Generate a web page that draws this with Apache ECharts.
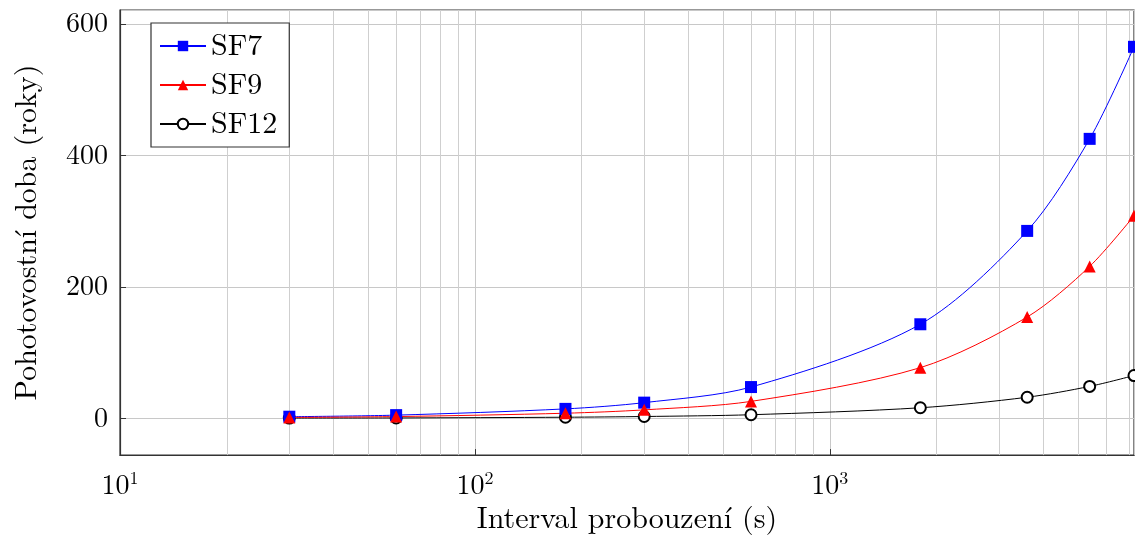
<!DOCTYPE html>
<html>
<head>
<meta charset="utf-8">
<script src="https://cdn.jsdelivr.net/npm/echarts@6/dist/echarts.min.js"></script>
<style>
  html, body { margin: 0; padding: 0; background: #fff; }
  #chart { width: 1135px; height: 539px; }
</style>
</head>
<body>
<div id="chart"></div>
<script>
// wake-up interval in seconds (x, log scale)
var intervals = [30, 60, 180, 300, 600, 1800, 3600, 5400, 7200];
// standby time in years
var sf7 = [2.4, 4.8, 14.3, 23.8, 47.5, 143, 285, 425, 565];
var sf9 = [1.3, 2.6, 7.7, 12.8, 25.7, 77, 154, 231, 308];
var sf12 = [0.3, 0.5, 1.6, 2.7, 5.4, 16, 32, 48.5, 65];
// minor grid positions of the log axis
var minorGrid = [20, 30, 40, 50, 60, 70, 80, 90, 200, 300, 400, 500, 600, 700, 800, 900, 2000, 3000, 4000, 5000, 6000, 7000];

var serif = "'Latin Modern Roman', 'Liberation Serif', serif";

function pairs (ys) {
  return intervals.map(function (x, i) { return [x, ys[i]]; });
}

var chart = echarts.init(document.getElementById('chart'));
var option = {
  animation: false,
  textStyle: { fontFamily: serif, color: '#000' },
  grid: {
    left: 120, right: 1, top: 10, bottom: 82,
    show: true, borderColor: '#333', borderWidth: 1.2
  },
  legend: {
    orient: 'vertical',
    left: 151, top: 23,
    padding: [8, 12, 8, 8],
    itemGap: 9,
    itemWidth: 46, itemHeight: 13,
    backgroundColor: '#fff',
    borderColor: '#333', borderWidth: 1.2,
    textStyle: { fontFamily: serif, fontSize: 30, color: '#000' },
    data: ['SF7', 'SF9', 'SF12']
  },
  xAxis: {
    type: 'log', logBase: 10, min: 10, max: 7200,
    name: 'Interval probouzení (s)',
    nameLocation: 'middle', nameGap: 47,
    nameTextStyle: { fontFamily: serif, fontSize: 30, color: '#000' },
    axisLine: { onZero: false, lineStyle: { color: '#333', width: 1.2 } },
    axisTick: { inside: true, length: 6, lineStyle: { color: '#333' } },
    axisLabel: {
      margin: 14, showMaxLabel: false,
      fontSize: 28, color: '#000',
      formatter: function (v) {
        return '10{sup|' + Math.round(Math.log10(v)) + '}';
      },
      rich: { sup: { fontSize: 18, verticalAlign: 'top', padding: [0, 0, 14, 0], fontFamily: serif } }
    },
    splitLine: { show: true, lineStyle: { color: '#c8c8c8', width: 1 } }
  },
  yAxis: {
    type: 'value', min: -56, max: 621, splitNumber: 3,
    name: 'Pohotovostní doba (roky)',
    nameLocation: 'middle', nameGap: 78,
    nameTextStyle: { fontFamily: serif, fontSize: 30, color: '#000' },
    axisLine: { show: true, lineStyle: { color: '#333', width: 1.2 } },
    axisTick: { inside: true, length: 6, lineStyle: { color: '#333' } },
    axisLabel: {
      showMinLabel: false, showMaxLabel: false,
      margin: 12, fontSize: 28, color: '#000'
    },
    splitLine: { show: true, lineStyle: { color: '#c8c8c8', width: 1 } }
  },
  series: [
    {
      name: 'SF7', type: 'line', smooth: 0.3,
      symbol: 'rect', symbolSize: 12,
      itemStyle: { color: '#0000ff' },
      lineStyle: { color: '#0000ff', width: 1 },
      data: pairs(sf7),
      z: 4,
      markLine: {
        silent: true, symbol: 'none', label: { show: false },
        lineStyle: { color: '#cfcfcf', width: 1, type: 'solid' },
        data: minorGrid.map(function (v) { return { xAxis: v }; }),
        z: 1
      }
    },
    {
      name: 'SF9', type: 'line', smooth: 0.3,
      symbol: 'triangle', symbolSize: 12,
      itemStyle: { color: '#ff0000' },
      lineStyle: { color: '#ff0000', width: 1 },
      data: pairs(sf9),
      z: 4
    },
    {
      name: 'SF12', type: 'line', smooth: 0.3,
      symbol: 'emptyCircle', symbolSize: 11,
      itemStyle: { color: '#000', borderColor: '#000', borderWidth: 0.9 },
      lineStyle: { color: '#000', width: 1 },
      data: pairs(sf12),
      z: 3
    }
  ]
};
chart.setOption(option);
</script>
</body>
</html>
